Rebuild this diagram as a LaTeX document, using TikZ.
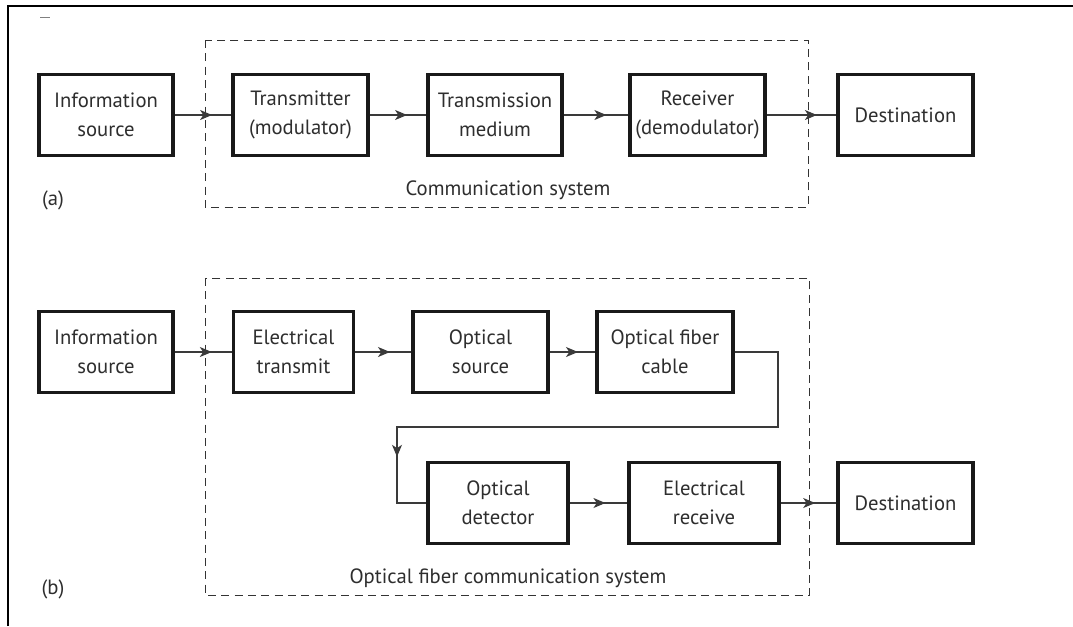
\documentclass[tikz,border=0pt]{standalone}
\usepackage{fontspec}
\setmainfont{PT Sans}
\usetikzlibrary{arrows.meta,decorations.markings}
\definecolor{txt}{HTML}{2E2E2E}
\definecolor{wire}{HTML}{3A3A3A}
\tikzset{
  blk/.style={draw=black!90,line width=2.4pt,fill=white,align=center,text=txt,
     inner sep=0pt,font=\fontsize{15.5}{22}\selectfont},
  lbl/.style={text=txt,inner sep=0pt,font=\fontsize{15.5}{22}\selectfont},
  sysbox/.style={draw=black!80,line width=0.7pt,dash pattern=on 6pt off 4pt},
  midarr/.style={draw=wire,line width=0.8pt,postaction={decorate},
     decoration={markings,mark=at position #1 with {\arrow{Stealth[length=9pt,width=7.5pt,inset=2.5pt]}}}},
}
\begin{document}
\begin{tikzpicture}[x=0.75pt,y=-0.75pt]
\useasboundingbox (0,0) rectangle (1073,626);
% frame
\draw[line width=1.6pt] (8,626) -- (8,6) -- (1073,6);
\draw[black!50,line width=0.6pt] (40,17) -- (50,17);

% dashed system boxes
\draw[sysbox] (205,40) rectangle (808,207);
\draw[sysbox] (205,278) rectangle (809,595);

% (a)
\node[blk,minimum width=134*0.75pt,minimum height=81*0.75pt] (infoA) at (106,115) {Information\\source};
\node[blk,minimum width=135*0.75pt,minimum height=81*0.75pt] (tx) at (300.5,115) {Transmitter\\(modulator)};
\node[blk,minimum width=134*0.75pt,minimum height=81*0.75pt] (med) at (495,115) {Transmission\\medium};
\node[blk,minimum width=135*0.75pt,minimum height=81*0.75pt] (rx) at (697.5,115) {Receiver\\(demodulator)};
\node[blk,minimum width=135*0.75pt,minimum height=81*0.75pt] (destA) at (905.5,115) {Destination};
\node[lbl] (csys) at (508,190) {Communication system};
\node[lbl] (la) at (53,200) {(a)};

\path[midarr=0.66] (infoA.east) -- (tx.west);
\path[midarr=0.66] (tx.east) -- (med.west);
\path[midarr=0.66] (med.east) -- (rx.west);
\path[midarr=0.72] (rx.east) -- (destA.west);

% (b)
\node[blk,minimum width=134*0.75pt,minimum height=81*0.75pt] (infoB) at (106,352) {Information\\source};
\node[blk,minimum width=120*0.75pt,minimum height=81*0.75pt] (et) at (293.5,352) {Electrical\\transmit};
\node[blk,minimum width=135*0.75pt,minimum height=81*0.75pt] (os) at (480.5,352) {Optical\\source};
\node[blk,minimum width=136*0.75pt,minimum height=81*0.75pt] (ofc) at (665,352) {Optical fiber\\cable};
\node[blk,minimum width=140*0.75pt,minimum height=81*0.75pt] (od) at (498,503) {Optical\\detector};
\node[blk,minimum width=150*0.75pt,minimum height=81*0.75pt] (er) at (704,503) {Electrical\\receive};
\node[blk,minimum width=135*0.75pt,minimum height=81*0.75pt] (destB) at (905.5,503) {Destination};
\node[lbl] (ofsys) at (508,578) {Optical fiber communication system};
\node[lbl] (lb) at (53,589) {(b)};

\coordinate (k1) at (778,427);
\coordinate (k2) at (397,427);

\path[midarr=0.65] (infoB.east) -- (et.west);
\path[midarr=0.62] (et.east) -- (os.west);
\path[midarr=0.62] (os.east) -- (ofc.west);
\path[midarr=0.875] (ofc.east) -| (k1) -- (k2) |- (od.west);
\path[midarr=0.62] (od.east) -- (er.west);
\path[midarr=0.62] (er.east) -- (destB.west);
\end{tikzpicture}
\end{document}
